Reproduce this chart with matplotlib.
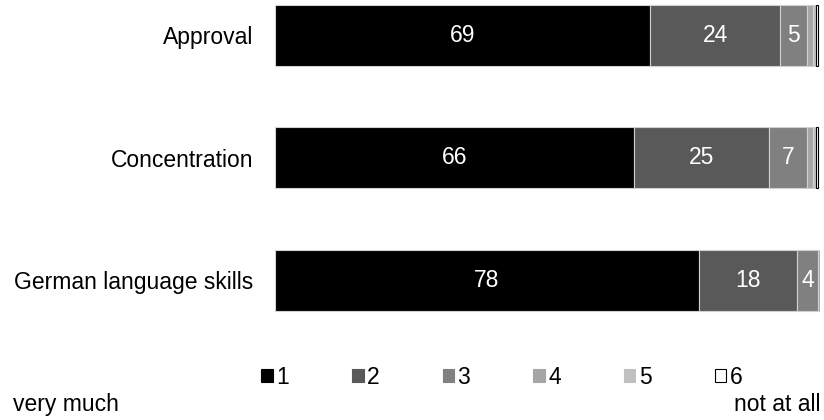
import matplotlib.pyplot as plt
from matplotlib.patches import Patch

plt.rcParams['font.family'] = ['Liberation Sans', 'DejaVu Sans']

# Antworten in Prozent, Skala 1 (very much) bis 6 (not at all)
items = ['Approval', 'Concentration', 'German language skills']
scale = ['1', '2', '3', '4', '5', '6']
approval = [69, 24, 5, 1, 0.5, 0.5]
concentration = [66, 25, 7, 1, 0.5, 0.5]
german = [78, 18, 4, 0.3, 0.2, 0.5]
values = [approval, concentration, german]

colors = ['#000000', '#595959', '#808080', '#a6a6a6', '#c0c0c0', '#ffffff']
edges = ['#d0d0d0', '#d0d0d0', '#d0d0d0', '#d0d0d0', '#d0d0d0', '#000000']
label_min = 3  # nur Segmente ab dieser Breite beschriften
fs = 16.5

fig = plt.figure(figsize=(8.24, 4.2), dpi=100)
ax = fig.add_axes([0.334, 0.251, 0.661, 0.747])

for i, row in enumerate(values):
    left = 0
    for k, v in enumerate(row):
        ax.barh(i, v, left=left, height=0.5, color=colors[k],
                edgecolor=edges[k], linewidth=0.8)
        if v >= label_min:
            ax.text(left + v / 2, i, f'{v:g}', ha='center', va='center',
                    color='white', fontsize=fs)
        left += v

ax.set_xlim(0, 100.3)
ax.set_ylim(2.28, -0.28)
ax.set_yticks(range(len(items)))
ax.set_yticklabels(items, fontsize=fs)
ax.tick_params(axis='y', length=0, pad=16)
ax.set_xticks([])
for s in ax.spines.values():
    s.set_visible(False)

handles = [Patch(facecolor=c, edgecolor=('#000000' if k == 5 else c), linewidth=0.8)
           for k, c in enumerate(colors)]
fig.legend(handles, scale, ncol=6, loc='center', bbox_to_anchor=(0.609, 0.102),
           frameon=False, fontsize=fs, handlelength=0.5, handleheight=0.5,
           handletextpad=0.15, columnspacing=2.75, borderpad=0, borderaxespad=0)

fig.text(0.080, 0.036, 'very much', fontsize=fs, va='center', ha='center')
fig.text(0.996, 0.036, 'not at all', fontsize=fs, va='center', ha='right')

fig.savefig('out.png', dpi=100)
